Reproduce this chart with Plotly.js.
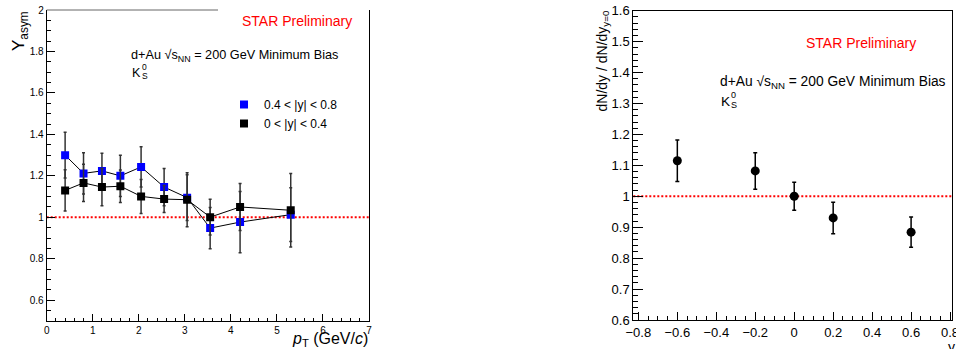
<!DOCTYPE html>
<html>
<head>
<meta charset="utf-8">
<script src="https://cdn.plot.ly/plotly-3.0.1.min.js"></script>
<style>html,body{margin:0;padding:0;background:#fff;}#chart{width:956px;height:349px;}</style>
</head>
<body>
<div id="chart"></div>
<script>
// ---- Data (left panel): Y_asym vs pT ----
const ptValues = [0.4, 0.8, 1.2, 1.6, 2.05, 2.55, 3.05, 3.55, 4.2, 5.3];
const yasymHigh = [1.300, 1.212, 1.224, 1.200, 1.243, 1.146, 1.095, 0.948, 0.977, 1.013]; // 0.4 < |y| < 0.8
const yasymHighErr = [0.110, 0.100, 0.085, 0.100, 0.097, 0.090, 0.110, 0.100, 0.148, 0.130];
const yasymLow = [1.130, 1.166, 1.146, 1.150, 1.101, 1.088, 1.085, 1.001, 1.050, 1.034];  // 0 < |y| < 0.4
const yasymLowErr = [0.100, 0.090, 0.090, 0.078, 0.082, 0.065, 0.130, 0.086, 0.113, 0.177];
const seriesNames = ["0.4 < |y| < 0.8", "0 < |y| < 0.4"];

// ---- Data (right panel): dN/dy ratio vs rapidity ----
const rapidity = [-0.6, -0.2, 0.0, 0.2, 0.6];
const dndyRatio = [1.115, 1.082, 1.000, 0.930, 0.884];
const dndyRatioErr = [0.067, 0.059, 0.045, 0.051, 0.049];

const referenceLevel = 1;

const W = 956, H = 349;
const px = v => v / W;
const py = v => 1 - v / H;
const FONT = "Liberation Sans, Arial, Helvetica, sans-serif";

function connector(y) {
  return {x: ptValues, y: y, type: "scatter", mode: "lines", showlegend: false, hoverinfo: "skip",
          xaxis: "x", yaxis: "y", line: {color: "#000", width: 1}};
}
function points(y, err, name, color) {
  return {x: ptValues, y: y, name: name, type: "scatter", mode: "markers", xaxis: "x", yaxis: "y",
          marker: {symbol: "square", size: 8, color: color},
          error_y: {type: "data", array: err, visible: true, color: "#333", thickness: 1.5, width: 1.5}};
}

const traces = [
  connector(yasymHigh),
  points(yasymHigh, yasymHighErr, seriesNames[0], "#0000ff"),
  connector(yasymLow),
  points(yasymLow, yasymLowErr, seriesNames[1], "#000000"),
  {
    x: rapidity, y: dndyRatio, type: "scatter", mode: "markers", showlegend: false,
    xaxis: "x2", yaxis: "y2",
    marker: {symbol: "circle", size: 9, color: "#000"},
    error_y: {type: "data", array: dndyRatioErr, visible: true, color: "#000", thickness: 1.5, width: 2}
  }
];

const axisCommon = {
  showline: true, linecolor: "#000", linewidth: 1, showgrid: false, zeroline: false,
  ticks: "inside", tickcolor: "#000", tickwidth: 1, automargin: false,
  ticklabeloverflow: "allow",
  tickfont: {family: FONT, size: 10, color: "#000"}
};

function txt(text, x, y, size, opts) {
  return Object.assign({text: text, xref: "paper", yref: "paper", x: px(x), y: py(y),
    xanchor: "left", yanchor: "middle", showarrow: false,
    font: {family: FONT, size: size, color: "#000"}}, opts || {});
}

const layout = {
  width: W, height: H,
  margin: {l: 0, r: 0, t: 0, b: 0},
  paper_bgcolor: "#fff", plot_bgcolor: "#fff",
  font: {family: FONT, color: "#000"},
  showlegend: true,
  legend: {
    x: px(224), y: py(90), xanchor: "left", yanchor: "top",
    bgcolor: "rgba(0,0,0,0)", font: {family: FONT, size: 12, color: "#000"},
    itemwidth: 30, tracegroupgap: 0
  },
  xaxis: Object.assign({}, axisCommon, {
    domain: [px(46.7), px(369)], range: [0, 7], anchor: "y",
    tick0: 0, dtick: 1, ticklen: 7, mirror: false,
    minor: {ticks: "inside", ticklen: 3.5, dtick: 0.2, tickcolor: "#000", showgrid: false}
  }),
  yaxis: Object.assign({}, axisCommon, {
    domain: [1 - 321 / H, 1 - 10 / H], range: [0.5, 2], anchor: "x",
    tick0: 0, dtick: 0.2, ticklen: 8, mirror: true,
    minor: {ticks: "inside", ticklen: 4, dtick: 0.05, tickcolor: "#000", showgrid: false}
  }),
  xaxis2: Object.assign({}, axisCommon, {
    domain: [px(633.3), px(952)], range: [-0.826, 0.81], anchor: "y2",
    tick0: 0, dtick: 0.2, ticklen: 8, mirror: true,
    tickfont: {family: FONT, size: 13, color: "#000"},
    minor: {ticks: "inside", ticklen: 4, dtick: 0.05, tickcolor: "#000", showgrid: false}
  }),
  yaxis2: Object.assign({}, axisCommon, {
    domain: [1 - 320 / H, 1 - 10.7 / H], range: [0.6, 1.6], anchor: "x2",
    tick0: 0, dtick: 0.1, ticklen: 10, mirror: true,
    tickfont: {family: FONT, size: 13, color: "#000"},
    minor: {ticks: "inside", ticklen: 5, dtick: 0.02, tickcolor: "#000", showgrid: false}
  }),
  shapes: [
    {type: "line", xref: "x domain", yref: "y", x0: 0, x1: 1, y0: referenceLevel, y1: referenceLevel,
     line: {color: "#ff0000", width: 2, dash: "2px,2px"}, layer: "below"},
    {type: "line", xref: "x2 domain", yref: "y2", x0: 0, x1: 1, y0: referenceLevel, y1: referenceLevel,
     line: {color: "#ff0000", width: 2, dash: "2px,2px"}, layer: "below"},
    // top frame of left panel (partly hidden behind the label box in the original)
    {type: "line", xref: "x domain", yref: "y domain", x0: 0, x1: (218 - 46.7) / (369 - 46.7), y0: 1, y1: 1,
     line: {color: "#666", width: 1}}
  ],
  annotations: [
    // left panel
    txt("STAR Preliminary", 297, 21, 14, {xanchor: "center", font: {family: FONT, size: 14, color: "#ff0000"}}),
    txt("d+Au √s<sub>NN</sub> = 200 GeV Minimum Bias", 129, 56, 12.7),
    txt("K", 130, 72.5, 12.6),
    txt("0", 139.5, 67, 8.5),
    txt("S", 139.5, 76, 8.5),
    txt("Y<sub>asym</sub>", 20, 9, 17, {xanchor: "center", yanchor: "top", textangle: -90}),
    txt("<i>p</i><sub>T</sub> (GeV/<i>c</i>)", 370, 339, 16, {xanchor: "right"}),
    // right panel
    txt("STAR Preliminary", 861, 43, 14, {xanchor: "center", font: {family: FONT, size: 14, color: "#ff0000"}}),
    txt("d+Au √s<sub>NN</sub> = 200 GeV Minimum Bias", 718, 83, 13.8),
    txt("K", 719, 101.5, 13.7),
    txt("0", 728.5, 95, 9),
    txt("S", 728.5, 105.5, 9),
    txt("dN/dy / dN/dy<sub>y=0</sub>", 603, 9, 14, {xanchor: "center", yanchor: "top", textangle: -90}),
    txt("y", 951, 337, 14, {xanchor: "center", yanchor: "top"})
  ]
};

Plotly.newPlot("chart", traces, layout, {staticPlot: true, displayModeBar: false});
</script>
</body>
</html>
